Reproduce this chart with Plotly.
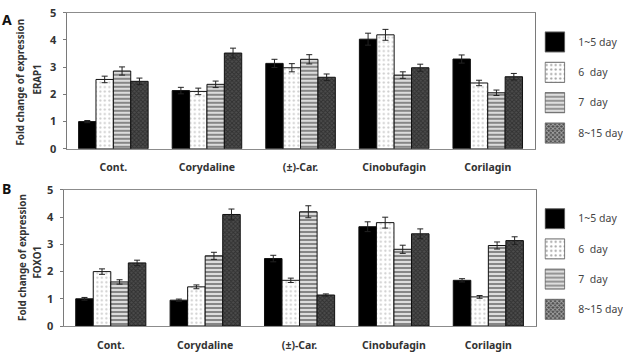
import plotly.graph_objects as go

W, H = 623, 356

categories = ["Cont.", "Corydaline", "(±)-Car.", "Cinobufagin", "Corilagin"]
series_names = ["1~5 day", "6\u00a0\u00a0day", "7\u00a0\u00a0day", "8~15 day"]
y_ticks = [0, 1, 2, 3, 4, 5]

# Panel A: ERAP1
erap1_d1_5 = [1.00, 2.14, 3.14, 4.03, 3.30]
erap1_d6 = [2.55, 2.11, 2.98, 4.19, 2.42]
erap1_d7 = [2.86, 2.37, 3.29, 2.71, 2.06]
erap1_d8_15 = [2.48, 3.52, 2.63, 2.98, 2.65]
erap1_d1_5_err = [0.04, 0.12, 0.15, 0.22, 0.15]
erap1_d6_err = [0.12, 0.12, 0.15, 0.20, 0.10]
erap1_d7_err = [0.15, 0.12, 0.17, 0.12, 0.10]
erap1_d8_15_err = [0.12, 0.18, 0.12, 0.13, 0.12]

# Panel B: FOXO1
foxo1_d1_5 = [1.00, 0.95, 2.48, 3.65, 1.68]
foxo1_d6 = [2.00, 1.44, 1.68, 3.80, 1.07]
foxo1_d7 = [1.62, 2.58, 4.20, 2.82, 2.96]
foxo1_d8_15 = [2.32, 4.10, 1.14, 3.39, 3.14]
foxo1_d1_5_err = [0.05, 0.04, 0.12, 0.18, 0.06]
foxo1_d6_err = [0.10, 0.07, 0.08, 0.20, 0.05]
foxo1_d7_err = [0.08, 0.13, 0.22, 0.15, 0.13]
foxo1_d8_15_err = [0.10, 0.20, 0.04, 0.18, 0.14]

legend_values = [1, 1, 1, 1]

# styles (fill patterns) for the four series
pat_shape = ["", ".", "-", "x"]
pat_fg = ["#000000", "#9a9a9a", "#262626", "#151515"]
pat_bg = ["#000000", "#ffffff", "#e6e6e6", "#4c4c4c"]
pat_size = [6, 4.5, 4, 3]
pat_solid = [0.3, 0.18, 0.55, 0.5]

FONT = "Noto Sans"
TXT = "#333333"


def px_x(p):
    return p / W


def px_y(p):
    return 1 - p / H


fig = go.Figure()

panelA = [erap1_d1_5, erap1_d6, erap1_d7, erap1_d8_15]
panelA_err = [erap1_d1_5_err, erap1_d6_err, erap1_d7_err, erap1_d8_15_err]
panelB = [foxo1_d1_5, foxo1_d6, foxo1_d7, foxo1_d8_15]
panelB_err = [foxo1_d1_5_err, foxo1_d6_err, foxo1_d7_err, foxo1_d8_15_err]

for axes, vals, errs in (("1", panelA, panelA_err), ("2", panelB, panelB_err)):
    for i, name in enumerate(series_names):
        fig.add_trace(go.Bar(
            x=categories, y=vals[i], name=name, showlegend=False,
            xaxis="x" if axes == "1" else "x2",
            yaxis="y" if axes == "1" else "y2",
            marker=dict(
                color=pat_bg[i],
                line=dict(color="#111111", width=1),
                pattern=dict(shape=pat_shape[i], fgcolor=pat_fg[i], bgcolor=pat_bg[i],
                             size=pat_size[i], solidity=pat_solid[i], fillmode="overlay"),
            ),
            error_y=dict(type="data", array=errs[i], color="#222222", thickness=1, width=3),
        ))

# custom legends (one per panel) as tiny horizontal bar charts
for xa, ya in (("x3", "y3"), ("x4", "y4")):
    fig.add_trace(go.Bar(
        x=legend_values, y=series_names, orientation="h", width=0.66,
        xaxis=xa, yaxis=ya, showlegend=False, hoverinfo="skip",
        marker=dict(
            color=pat_bg,
            line=dict(color="#666666", width=1),
            pattern=dict(shape=pat_shape, fgcolor=pat_fg, bgcolor=pat_bg,
                         size=pat_size, solidity=pat_solid, fillmode="overlay"),
        ),
    ))

xdomA = [px_x(67), px_x(538)]
xdomB = [px_x(64), px_x(539)]
ydomA = [px_y(147), px_y(5)]
ydomB = [px_y(332), px_y(190)]

xcommon = dict(
    type="category", showline=True, linecolor="#8c8c8c", linewidth=1, mirror=True,
    ticks="", showgrid=False, zeroline=False,
    tickfont=dict(family=FONT, size=10.5, color=TXT, weight="bold"),
    ticklabelstandoff=9,
)
ycommon = dict(
    range=[0, 5], tickvals=y_ticks, showline=True, linecolor="#7a7a7a", linewidth=1,
    mirror=True, ticks="outside", ticklen=3, tickcolor="#7a7a7a", showgrid=False,
    zeroline=False, tickfont=dict(family=FONT, size=11, color=TXT, weight="bold"),
    ticklabelstandoff=4,
)

leg_x = [px_x(548), px_x(569)]
legx = dict(range=[-0.03, 1.03], visible=False, fixedrange=True)
legy = dict(type="category", autorange="reversed", side="right", showline=False,
            ticks="", showgrid=False, zeroline=False,
            tickfont=dict(family=FONT, size=10.5, color="#444444"),
            ticklabelstandoff=12)

fig.update_layout(
    width=W, height=H,
    margin=dict(l=0, r=0, t=0, b=0),
    paper_bgcolor="white", plot_bgcolor="white",
    barmode="group", bargap=0.257, bargroupgap=0,
    showlegend=False,
    xaxis=dict(domain=xdomA, anchor="y", **xcommon),
    yaxis=dict(domain=ydomA, anchor="x", **ycommon),
    xaxis2=dict(domain=xdomB, anchor="y2", **xcommon),
    yaxis2=dict(domain=ydomB, anchor="x2", **ycommon),
    xaxis3=dict(domain=leg_x, anchor="y3", **legx),
    yaxis3=dict(domain=[px_y(146.4), px_y(19.6)], anchor="x3", **legy),
    xaxis4=dict(domain=leg_x, anchor="y4", **legx),
    yaxis4=dict(domain=[px_y(330.3), px_y(204.2)], anchor="x4", **legy),
)

ann_font = dict(family=FONT, size=9.8, color=TXT, weight="bold")
annotations = [
    dict(text="A", x=0, y=px_y(0), xanchor="left", yanchor="top",
         font=dict(family=FONT, size=14, color="#111111", weight="bold")),
    dict(text="B", x=0, y=px_y(176), xanchor="left", yanchor="top",
         font=dict(family=FONT, size=14, color="#111111", weight="bold")),
    dict(text="Fold change of expression", x=px_x(21), y=px_y(77), textangle=-90, font=ann_font),
    dict(text="ERAP1", x=px_x(38), y=px_y(75), textangle=-90, font=ann_font),
    dict(text="Fold change of expression", x=px_x(22), y=px_y(260), textangle=-90, font=ann_font),
    dict(text="FOXO1", x=px_x(38), y=px_y(265), textangle=-90, font=ann_font),
]
for a in annotations:
    a.update(xref="paper", yref="paper", showarrow=False)
    a.setdefault("xanchor", "center")
    a.setdefault("yanchor", "middle")
fig.update_layout(annotations=annotations)

fig.write_html("out.html")
